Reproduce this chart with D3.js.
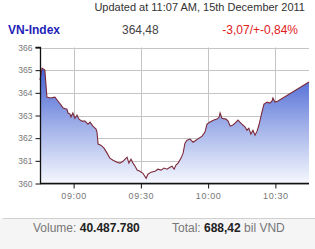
<!DOCTYPE html>
<html>
<head>
<meta charset="utf-8">
<script src="https://cdnjs.cloudflare.com/ajax/libs/d3/7.8.5/d3.min.js"></script>
<style>
  body { margin: 0; background: #fff; }
  svg { display: block; font-family: "Liberation Sans", Arial, sans-serif; }
</style>
</head>
<body>
<div id="chart"></div>
<script>
// Intraday VN-Index, 15 Dec 2011
var times = ["08:45:00", "08:45:55", "08:47:10", "08:48:05", "08:49:30", "08:51:40", "08:53:00", "08:54:25",
    "08:55:20", "08:57:00", "08:57:30", "08:58:25", "08:58:50", "08:59:40", "09:00:35", "09:01:30",
    "09:02:25", "09:03:40", "09:05:05", "09:06:25", "09:07:20", "09:08:35", "09:10:00", "09:10:25",
    "09:10:55", "09:12:10", "09:13:35", "09:14:55", "09:16:10", "09:17:35", "09:19:20", "09:20:40",
    "09:22:00", "09:23:25", "09:23:50", "09:24:40", "09:25:35", "09:26:30", "09:27:25", "09:28:20",
    "09:29:35", "09:30:55", "09:32:20", "09:33:10", "09:34:30", "09:36:20", "09:37:35", "09:39:00",
    "09:40:20", "09:41:40", "09:43:00", "09:43:55", "09:44:50", "09:45:40", "09:46:35", "09:47:55",
    "09:48:50", "09:49:40", "09:50:35", "09:51:55", "09:53:20", "09:54:35", "09:55:55", "09:57:20",
    "09:58:35", "09:59:30", "10:00:50", "10:02:35", "10:04:00", "10:04:55", "10:05:20", "10:06:10",
    "10:08:00", "10:08:55", "10:09:50", "10:11:05", "10:12:00", "10:13:20", "10:14:10", "10:15:05",
    "10:16:30", "10:17:20", "10:18:10", "10:19:05", "10:20:00", "10:20:55", "10:21:50", "10:22:40",
    "10:24:00", "10:24:55", "10:26:20", "10:27:35", "10:28:30", "10:28:55", "10:29:50", "10:31:10",
    "10:45:00"];
var values = [364.56, 365.09, 365.01, 363.81, 363.77, 363.81, 363.64, 363.46,
    363.33, 363.28, 363.11, 363.06, 362.93, 363.11, 362.88, 363.02,
    362.84, 362.75, 362.75, 362.62, 362.71, 362.53, 362.40, 362.27,
    361.74, 361.69, 361.56, 361.34, 361.12, 361.03, 360.94, 360.90,
    360.98, 361.12, 361.16, 360.90, 361.07, 360.90, 360.76, 360.59,
    360.54, 360.45, 360.23, 360.41, 360.50, 360.54, 360.63, 360.59,
    360.68, 360.63, 360.72, 360.76, 360.63, 360.81, 360.90, 361.12,
    361.34, 361.78, 361.91, 361.96, 361.82, 361.91, 362.00, 362.09,
    362.27, 362.62, 362.71, 362.80, 362.84, 362.93, 363.11, 362.88,
    362.84, 362.75, 362.53, 362.58, 362.66, 362.80, 362.71, 362.62,
    362.49, 362.35, 362.44, 362.18, 362.35, 362.13, 362.31, 362.58,
    363.15, 363.50, 363.59, 363.55, 363.64, 363.77, 363.59, 363.64,
    364.48];
var yTicks = [360, 361, 362, 363, 364, 365, 366];
var xTickLabels = ["09:00", "09:30", "10:00", "10:30"];
var timeRange = ["08:45:00", "10:45:00"];

var w = 315, h = 249;
var plotLeft = 40, plotRight = 309, plotTop = 47.5, plotBottom = 183.5;

var parseTime = d3.timeParse("%H:%M:%S");
var parseTick = d3.timeParse("%H:%M");
var data = times.map(function (t, i) {
    return { t: parseTime(t), v: values[i] };
});

var x = d3.scaleTime()
    .domain(timeRange.map(parseTime))
    .range([plotLeft, plotRight]);
var y = d3.scaleLinear()
    .domain([360, 366])
    .range([plotBottom, plotTop]);

var svg = d3.select("#chart").append("svg")
    .attr("width", w)
    .attr("height", h);

// Header texts
svg.append("text")
    .attr("x", 305).attr("y", 11)
    .attr("text-anchor", "end")
    .attr("font-size", 11)
    .attr("fill", "#333")
    .text("Updated at 11:07 AM, 15th December 2011");
svg.append("text")
    .attr("x", 8).attr("y", 34)
    .attr("font-size", 12).attr("font-weight", "bold")
    .attr("fill", "#1f1fb8")
    .text("VN-Index");
svg.append("text")
    .attr("x", 122).attr("y", 34)
    .attr("font-size", 12)
    .attr("fill", "#444")
    .text("364,48");
svg.append("text")
    .attr("x", 298).attr("y", 34)
    .attr("text-anchor", "end")
    .attr("font-size", 12)
    .attr("fill", "#e0201c")
    .text("-3,07/+-0,84%");

// Gradient for area
var grad = svg.append("defs").append("linearGradient")
    .attr("id", "areaGrad")
    .attr("gradientUnits", "userSpaceOnUse")
    .attr("x1", 0).attr("y1", y(365.2))
    .attr("x2", 0).attr("y2", plotBottom);
grad.append("stop").attr("offset", "0%").attr("stop-color", "#3f5dd2");
grad.append("stop").attr("offset", "55%").attr("stop-color", "#a7b6ea");
grad.append("stop").attr("offset", "100%").attr("stop-color", "#f6f8fe");

// Grid lines
svg.append("g")
    .selectAll("line")
    .data(yTicks)
    .enter().append("line")
    .attr("x1", plotLeft).attr("x2", plotRight)
    .attr("y1", function (d) { return Math.round(y(d)) + 0.5; })
    .attr("y2", function (d) { return Math.round(y(d)) + 0.5; })
    .attr("stroke", "#c4c4c4");
svg.append("g")
    .selectAll("line")
    .data(xTickLabels)
    .enter().append("line")
    .attr("x1", function (d) { return Math.round(x(parseTick(d))) + 0.5; })
    .attr("x2", function (d) { return Math.round(x(parseTick(d))) + 0.5; })
    .attr("y1", plotTop).attr("y2", plotBottom)
    .attr("stroke", "#c4c4c4");

// Area and line
var area = d3.area()
    .x(function (d) { return x(d.t); })
    .y0(plotBottom)
    .y1(function (d) { return y(d.v); });
var line = d3.line()
    .x(function (d) { return x(d.t); })
    .y(function (d) { return y(d.v); });

svg.append("path")
    .datum(data)
    .attr("d", area)
    .attr("fill", "url(#areaGrad)");
svg.append("path")
    .datum(data)
    .attr("d", line)
    .attr("fill", "none")
    .attr("stroke", "#7d2a3a")
    .attr("stroke-width", 1.1);

// Axes
var yAxis = d3.axisLeft(y)
    .tickValues(yTicks)
    .tickSize(5)
    .tickPadding(3)
    .tickFormat(d3.format("d"));
var xAxis = d3.axisBottom(x)
    .tickValues(xTickLabels.map(parseTick))
    .tickSize(5)
    .tickPadding(4)
    .tickFormat(d3.timeFormat("%H:%M"));

var gy = svg.append("g")
    .attr("transform", "translate(" + (plotLeft + 0.5) + ",0)")
    .call(yAxis);
var gx = svg.append("g")
    .attr("transform", "translate(0," + plotBottom + ")")
    .call(xAxis);

gy.select(".domain").attr("stroke", "#111").attr("stroke-width", 1.3)
    .attr("d", "M-5," + plotTop + "H0V" + plotBottom);
gx.select(".domain").attr("stroke", "#111").attr("stroke-width", 1.3)
    .attr("d", "M" + plotLeft + ",0H" + plotRight);
[gx, gy].forEach(function (g) {
    g.selectAll(".tick line").attr("stroke", "#111");
    g.selectAll(".tick text")
        .attr("fill", "#777")
        .attr("font-family", "'Liberation Sans', Arial, sans-serif");
});
gy.selectAll(".tick text").attr("font-size", 8.5);
gx.selectAll(".tick text").attr("font-size", 9).attr("letter-spacing", 0.6);

// Footer
svg.append("rect")
    .attr("x", 0).attr("y", 218)
    .attr("width", w).attr("height", h - 218)
    .attr("fill", "#f5f5f5");
svg.append("line")
    .attr("x1", 3).attr("x2", w)
    .attr("y1", 218.5).attr("y2", 218.5)
    .attr("stroke", "#d0d0d0");

var vol = svg.append("text")
    .attr("x", 33).attr("y", 232)
    .attr("font-size", 12);
vol.append("tspan").attr("fill", "#777").text("Volume: ");
vol.append("tspan").attr("fill", "#222").attr("font-weight", "bold").text("40.487.780");

var tot = svg.append("text")
    .attr("x", 172).attr("y", 232)
    .attr("font-size", 12);
tot.append("tspan").attr("fill", "#777").text("Total: ");
tot.append("tspan").attr("fill", "#222").attr("font-weight", "bold").text("688,42");
tot.append("tspan").attr("fill", "#777").text(" bil VND");
</script>
</body>
</html>
